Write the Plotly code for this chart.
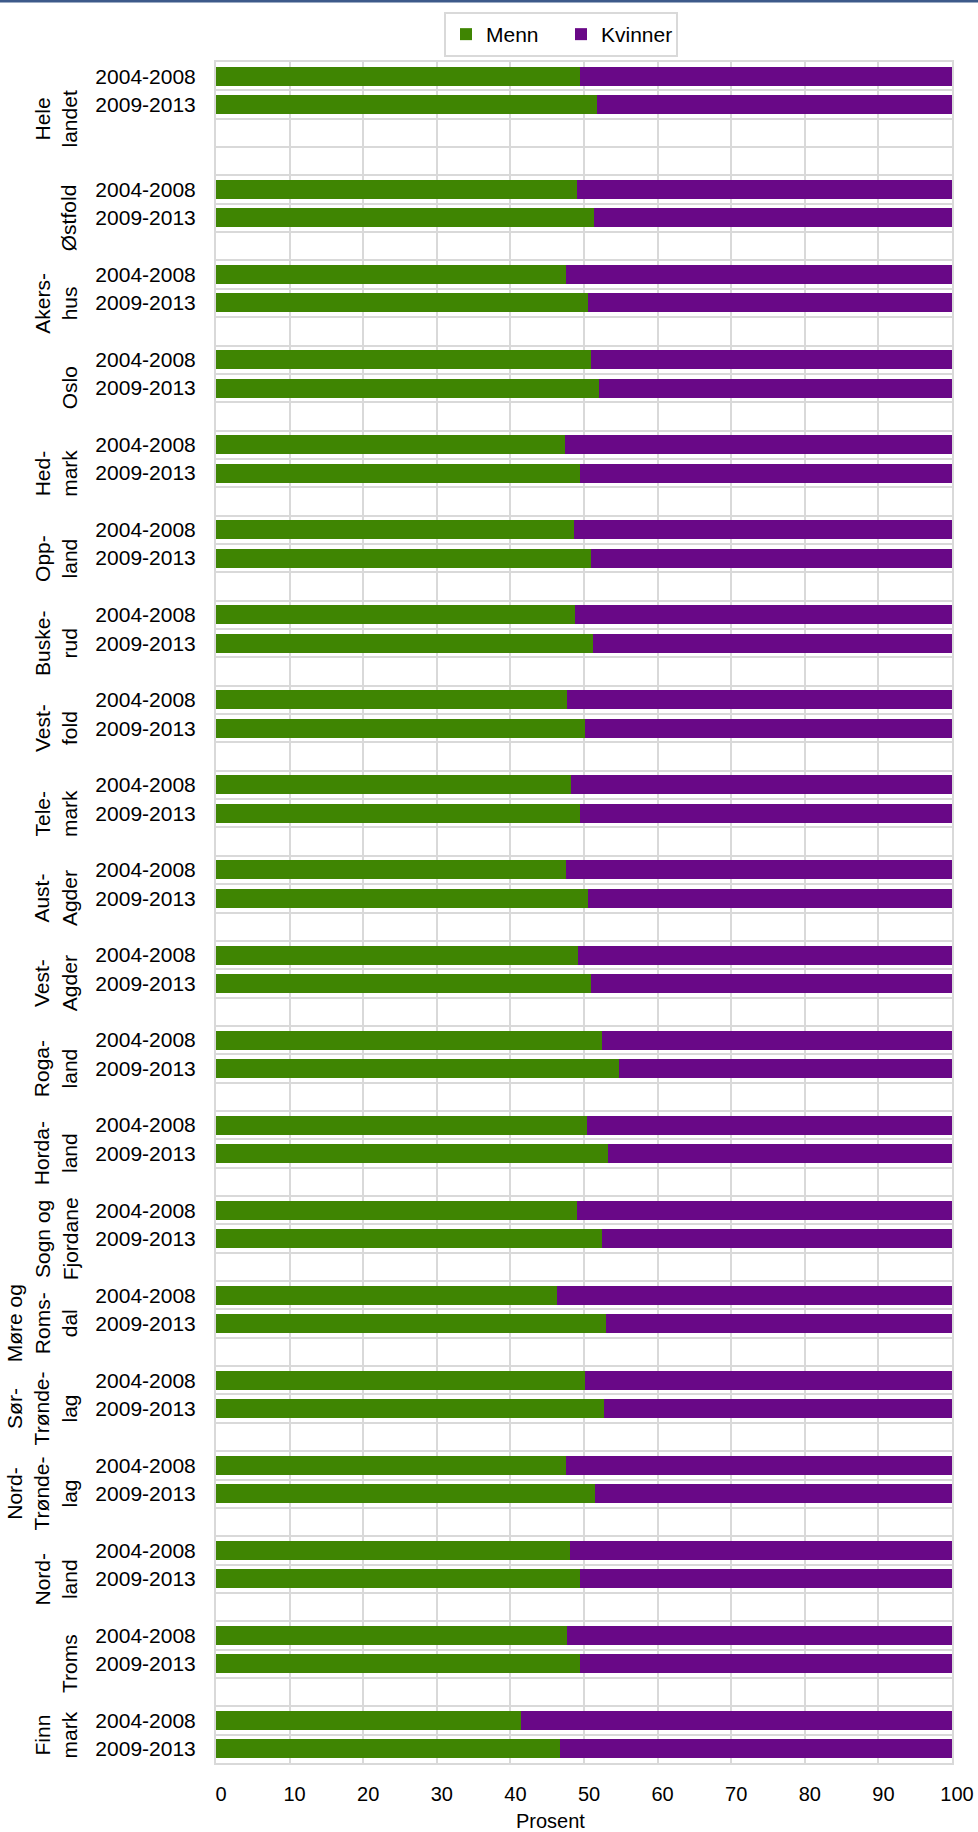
import plotly.graph_objects as go

# fylker (gruppe-etiketter) og perioder
fylker = ['Hele<br>landet', 'Østfold', 'Akers-<br>hus', 'Oslo', 'Hed-<br>mark', 'Opp-<br>land',
          'Buske-<br>rud', 'Vest-<br>fold', 'Tele-<br>mark', 'Aust-<br>Agder', 'Vest-<br>Agder',
          'Roga-<br>land', 'Horda-<br>land', 'Sogn og<br>Fjordane', 'Møre og<br>Roms-<br>dal',
          'Sør-<br>Trønde-<br>lag', 'Nord-<br>Trønde-<br>lag', 'Nord-<br>land', 'Troms', 'Finn<br>mark']
perioder = ['2004-2008', '2009-2013']

# prosent menn, (2004-2008, 2009-2013) per fylke
menn_2004 = [49.4, 49.1, 47.5, 51.0, 47.4, 48.7, 48.8, 47.7, 48.3, 47.5,
             49.2, 52.4, 50.4, 49.1, 46.3, 50.2, 47.5, 48.1, 47.7, 41.5]
menn_2009 = [51.7, 51.4, 50.6, 52.0, 49.4, 51.0, 51.2, 50.2, 49.5, 50.5,
             50.9, 54.7, 53.2, 52.4, 53.0, 52.7, 51.5, 49.4, 49.5, 46.8]
kvinner_2004 = [100 - v for v in menn_2004]
kvinner_2009 = [100 - v for v in menn_2009]

GREEN = '#3F8502'
PURPLE = '#690887'
GRID = '#d9d9d9'
FONT = 'Arial, Liberation Sans, sans-serif'

# radposisjoner: første gruppe har to tomme rader, de andre én, siste ingen
slots = [4] + [3] * (len(fylker) - 2) + [2]
centers, starts = [], []
pos = 0
for n in slots:
    starts.append(pos)
    centers.append(pos + (n - 1) / 2)
    pos += n
n_rows = pos

y_vals, menn, kvinner, ticktext = [], [], [], []
for i in range(len(fylker)):
    y_vals += [starts[i], starts[i] + 1]
    menn += [menn_2004[i], menn_2009[i]]
    kvinner += [kvinner_2004[i], kvinner_2009[i]]
    ticktext += perioder

fig = go.Figure()
fig.add_trace(go.Bar(y=y_vals, x=menn, orientation='h', name='Menn',
                     marker=dict(color=GREEN, line_width=0)))
fig.add_trace(go.Bar(y=y_vals, x=kvinner, orientation='h', name='Kvinner',
                     marker=dict(color=PURPLE, line_width=0)))

# gruppe-etiketter, rotert
for label, c in zip(fylker, centers):
    fig.add_annotation(text=label, textangle=-90, xref='paper', x=-0.181, xanchor='right',
                       yref='y', y=c, yanchor='middle', showarrow=False,
                       font=dict(size=21, color='#000', family=FONT))

fig.add_annotation(text='Prosent', xref='paper', x=(550 - 216) / 736, xanchor='center',
                   yref='paper', y=-0.034, yanchor='middle', showarrow=False,
                   font=dict(size=20, color='#000', family=FONT))

# blå strek øverst
fig.add_shape(type='line', xref='paper', yref='paper', x0=-0.4, x1=1.2,
              y0=1 + 61 / 1701, y1=1 + 61 / 1701, line=dict(color='#3d5a8a', width=3))

fig.update_layout(
    width=978, height=1832,
    margin=dict(l=216, r=26, t=62, b=69),
    barmode='stack', bargap=0.33,
    plot_bgcolor='white', paper_bgcolor='white',
    font=dict(family=FONT, size=21, color='#000'),
    legend=dict(orientation='h', x=(444 - 216) / 736, xanchor='left',
                y=1 + (62 - 12) / 1701, yanchor='top',
                bordercolor=GRID, borderwidth=2, font=dict(size=21),
                entrywidth=70, traceorder='normal'),
)
fig.update_xaxes(range=[0, 100], tickvals=list(range(0, 101, 10)), showgrid=True,
                 gridcolor=GRID, gridwidth=2, zeroline=False, showline=True,
                 linecolor=GRID, linewidth=2, mirror=True, ticks='', automargin=False,
                 ticklabelstandoff=12, ticklabelshift=5, tickfont=dict(size=20))
fig.update_yaxes(range=[n_rows - 0.5, -0.5], tickmode='array', tickvals=y_vals, ticktext=ticktext,
                 showgrid=False, zeroline=False, showline=True, linecolor=GRID, linewidth=2,
                 mirror=True, ticks='', ticklabelstandoff=14, automargin=False,
                 minor=dict(tickmode='array', tickvals=[k - 0.5 for k in range(1, n_rows)],
                            showgrid=True, gridcolor=GRID, gridwidth=2, ticks=''))

fig.write_html('out.html', config={'displayModeBar': False},
               post_script="document.body.style.margin='0';")
